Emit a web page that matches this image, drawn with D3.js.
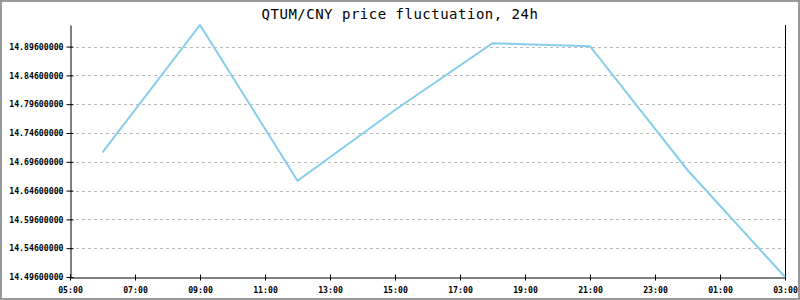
<!DOCTYPE html>
<html>
<head>
<meta charset="utf-8">
<script src="https://cdn.jsdelivr.net/npm/d3@7"></script>
<style>
body { margin: 0; background: #fff; }
svg { display: block; }
</style>
</head>
<body>
<script>
// hours (0 = 00:00 of first day), prices
var hours = [6, 9, 12, 15, 18, 21, 24, 27];
var prices = [14.7125, 14.9335, 14.6632, 14.7859, 14.9018, 14.8966, 14.6818, 14.4960];
var yTicks = [14.496, 14.546, 14.596, 14.646, 14.696, 14.746, 14.796, 14.846, 14.896];
var xTickHours = [5, 7, 9, 11, 13, 15, 17, 19, 21, 23, 25, 27];
var title = "QTUM/CNY price fluctuation, 24h";

var W = 800, H = 300;
var margin = {left: 70, right: 15, top: 25, bottom: 23};

var svg = d3.select("body").append("svg")
    .attr("width", W)
    .attr("height", H)

var base = new Date(2018, 0, 1, 0, 0);
function toDate(h) { return new Date(base.getTime() + h * 3600000); }

var x = d3.scaleTime()
    .domain([toDate(5), toDate(27)])
    .range([margin.left, W - margin.right])
var y = d3.scaleLinear()
    .domain([d3.min(prices), d3.max(prices)])
    .range([H - margin.bottom, margin.top])

// outer frame
svg.append("rect")
    .attr("x", 1).attr("y", 1)
    .attr("width", W - 2).attr("height", H - 2)
    .attr("fill", "none")
    .attr("stroke", "#999")
    .attr("stroke-width", 2)

svg.append("text")
    .attr("x", W / 2)
    .attr("y", 19)
    .attr("text-anchor", "middle")
    .attr("font-family", "DejaVu Sans Mono, monospace")
    .attr("font-size", 14)
    .attr("letter-spacing", 0.5)
    .text(title)

// grid
svg.append("g").selectAll("line")
    .data(yTicks.slice(1))
    .enter().append("line")
    .attr("x1", margin.left).attr("x2", W - margin.right)
    .attr("y1", function(d) { return Math.round(y(d)) + 0.5; })
    .attr("y2", function(d) { return Math.round(y(d)) + 0.5; })
    .attr("stroke", "#bbb")
    .attr("stroke-dasharray", "3,3")

// axes
var yAxis = d3.axisLeft(y)
    .tickValues(yTicks)
    .tickFormat(d3.format(".8f"))
    .tickSizeInner(4)
    .tickSizeOuter(0)
var gy = svg.append("g")
    .attr("transform", "translate(" + (margin.left + 0.5) + ",0)")
    .call(yAxis)
gy.selectAll(".tick line").attr("x2", -4).attr("x1", 3)

var xAxis = d3.axisBottom(x)
    .tickValues(xTickHours.map(toDate))
    .tickFormat(d3.timeFormat("%H:%M"))
    .tickSizeInner(3)
    .tickSizeOuter(0)
var gx = svg.append("g")
    .attr("transform", "translate(0," + (H - margin.bottom + 0.5) + ")")
    .call(xAxis)
gx.selectAll(".tick line").attr("y1", -3).attr("y2", 3)
gx.selectAll(".tick text").attr("y", 10)

svg.selectAll(".tick text")
    .attr("font-family", "DejaVu Sans Mono, monospace")
    .attr("font-size", 8.2)
    .attr("font-weight", "bold")
    .attr("fill", "#000")
svg.selectAll(".domain, .tick line").attr("stroke", "#000")

// right border line
svg.append("line")
    .attr("x1", W - margin.right + 0.5).attr("x2", W - margin.right + 0.5)
    .attr("y1", margin.top).attr("y2", H - margin.bottom)
    .attr("stroke", "#000")

var line = d3.line()
    .x(function(d, i) { return x(toDate(hours[i])); })
    .y(function(d) { return y(d); })

svg.append("path")
    .datum(prices)
    .attr("d", line)
    .attr("fill", "none")
    .attr("stroke", "#87ceeb")
    .attr("stroke-width", 2)
</script>
</body>
</html>
